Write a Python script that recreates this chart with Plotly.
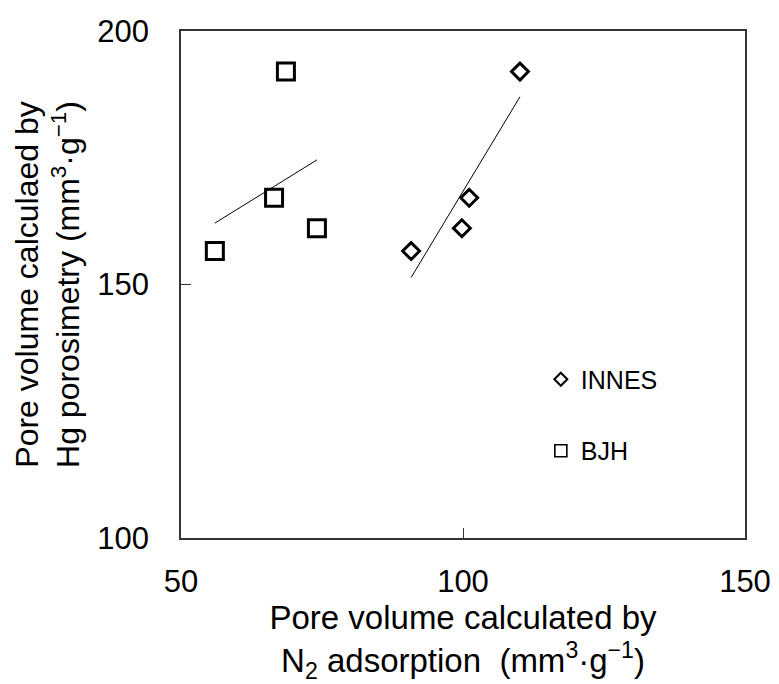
import numpy as np
import plotly.graph_objects as go

# Data
hg_porosimetry = [192.0, 167.1, 161.1, 156.6]
n2_innes = [110.1, 101.1, 99.8, 90.8]
n2_bjh = [68.6, 66.5, 74.1, 56.0]

x_ticks = [50, 100, 150]
y_ticks = [100, 150, 200]

FONT = "Liberation Sans, Arial, sans-serif"

fig = go.Figure()

def fit_line(xs, ys):
    xs = np.asarray(xs, float)
    ys = np.asarray(ys, float)
    k, b = np.polyfit(xs, ys, 1)
    xx = np.array([xs.min(), xs.max()])
    return xx, k * xx + b

# trend lines
for xs in (n2_innes, n2_bjh):
    lx, ly = fit_line(xs, hg_porosimetry)
    fig.add_trace(go.Scatter(x=lx, y=ly, mode="lines",
                             line=dict(color="black", width=1),
                             showlegend=False, hoverinfo="skip"))

# data markers
fig.add_trace(go.Scatter(x=n2_innes, y=hg_porosimetry, mode="markers",
                         marker=dict(symbol="diamond-open", size=13, color="black",
                                     line=dict(width=3, color="black")),
                         showlegend=False, name="INNES"))
fig.add_trace(go.Scatter(x=n2_bjh, y=hg_porosimetry, mode="markers",
                         marker=dict(symbol="square-open", size=17, color="black",
                                     line=dict(width=3, color="black")),
                         showlegend=False, name="BJH"))

# legend entries (smaller symbols as in the reference)
fig.add_trace(go.Scatter(x=[None], y=[None], mode="markers", name="INNES",
                         legendgroup="a",
                         marker=dict(symbol="diamond-open", size=10, color="black",
                                     line=dict(width=2, color="black"))))
fig.add_trace(go.Scatter(x=[None], y=[None], mode="markers", name="BJH",
                         legendgroup="b",
                         marker=dict(symbol="square-open", size=12, color="black",
                                     line=dict(width=1.6, color="black"))))

axis_common = dict(
    showline=True, mirror=True, linecolor="#333333", linewidth=1.5,
    ticks="inside", ticklen=10, tickcolor="#333333", tickwidth=1.2,
    showgrid=False, zeroline=False, automargin=False,
    tickfont=dict(family=FONT, size=31, color="black"),
)

fig.update_layout(
    width=779, height=684,
    margin=dict(l=181, r=34, t=31, b=146),
    paper_bgcolor="white", plot_bgcolor="white",
    font=dict(family=FONT, color="black"),
    xaxis=dict(range=[50, 150], tickvals=x_ticks, ticktext=[str(v) for v in x_ticks],
               ticklabelstandoff=15,
               title=dict(text="Pore volume calculated by<br>N<sub>2</sub> adsorption  (mm<sup>3</sup>·g<sup>−1</sup>)",
                          font=dict(family=FONT, size=33), standoff=17),
               **axis_common),
    yaxis=dict(range=[100, 200], tickvals=y_ticks, ticktext=[str(v) for v in y_ticks],
               ticklabelstandoff=24,
               title=dict(text="Pore volume calculaed by<br>Hg porosimetry (mm<sup>3</sup>·g<sup>−1</sup>)",
                          font=dict(family=FONT, size=32), standoff=8),
               **axis_common),
    legend=dict(x=0.638, y=0.358, xanchor="left", yanchor="top",
                font=dict(family=FONT, size=25, color="black"),
                bgcolor="rgba(0,0,0,0)", tracegroupgap=36, itemwidth=30),
    showlegend=True,
)

fig.write_html("out.html")
